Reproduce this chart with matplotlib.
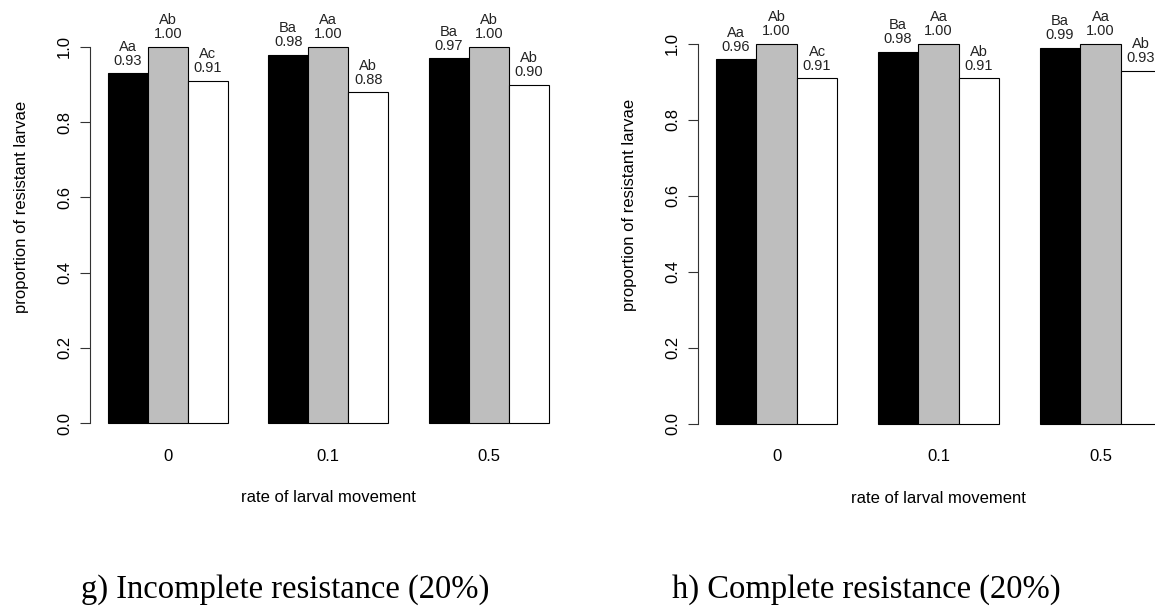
import matplotlib
matplotlib.use("Agg")
import matplotlib.pyplot as plt

plt.rcParams['font.family'] = ['Liberation Sans', 'DejaVu Sans']

# --- data ---
rates = ['0', '0.1', '0.5']

g_black = [0.93, 0.98, 0.97]
g_gray = [1.00, 1.00, 1.00]
g_white = [0.91, 0.88, 0.90]
g_black_let = ['Aa', 'Ba', 'Ba']
g_gray_let = ['Ab', 'Aa', 'Ab']
g_white_let = ['Ac', 'Ab', 'Ab']

h_black = [0.96, 0.98, 0.99]
h_gray = [1.00, 1.00, 1.00]
h_white = [0.91, 0.91, 0.93]
h_black_let = ['Aa', 'Ba', 'Ba']
h_gray_let = ['Ab', 'Aa', 'Aa']
h_white_let = ['Ac', 'Ab', 'Ab']

yticks = [0.0, 0.2, 0.4, 0.6, 0.8, 1.0]
fills = ['black', '#BEBEBE', 'white']

W, H = 1155, 608


def panel(rect_px, series, letters, title, title_xy):
    x0, top, w, h = rect_px
    ax = fig.add_axes([x0 / W, (H - top - h) / H, w / W, h / H])
    for k, (vals, lets) in enumerate(zip(series, letters)):
        xs = [g * 4 + k + 1.5 for g in range(len(vals))]
        ax.bar(xs, vals, width=1.0, color=fills[k], edgecolor='black', linewidth=0.8)
        for x, v, l in zip(xs, vals, lets):
            ax.annotate(f"{l}\n{v:.2f}", (x, v), xytext=(0, 4), textcoords='offset points',
                        ha='center', va='bottom', fontsize=10.5, linespacing=1.0,
                        color='#222222')
    ax.set_xlim(0.56, 12.44)
    ax.set_ylim(-0.046, 1.196)
    for s in ['top', 'right', 'bottom']:
        ax.spines[s].set_visible(False)
    ax.spines['left'].set_bounds(0, 1)
    ax.spines['left'].set_color('#333333')
    ax.spines['left'].set_linewidth(0.8)
    ax.set_yticks(yticks)
    ax.set_yticklabels([f"{t:.1f}" for t in yticks])
    ax.tick_params(axis='y', length=7, width=0.8, color='#333333', pad=6,
                   labelsize=12, labelrotation=90)
    for lbl in ax.get_yticklabels():
        lbl.set_va('center')
    ax.set_xticks([2.5, 6.5, 10.5])
    ax.set_xticklabels(rates)
    ax.tick_params(axis='x', length=0, pad=6, labelsize=12)
    ax.set_xlabel('rate of larval movement', fontsize=12, labelpad=19)
    ax.set_ylabel('proportion of resistant larvae', fontsize=12, labelpad=20)
    ax.patch.set_alpha(0)
    fig.text(title_xy[0] / W, 1 - title_xy[1] / H, title, ha='center', va='center',
             fontsize=23.5, family='Liberation Serif')
    return ax


fig = plt.figure(figsize=(W / 100, H / 100), dpi=100)

panel((90, -26.7, 476.5, 467.0), [g_black, g_gray, g_white],
      [g_black_let, g_gray_let, g_white_let],
      'g) Incomplete resistance (20%)', (285, 590))
panel((698, -30.4, 481.0, 471.4), [h_black, h_gray, h_white],
      [h_black_let, h_gray_let, h_white_let],
      'h) Complete resistance (20%)', (866, 590))

fig.savefig('out.png', dpi=100)
